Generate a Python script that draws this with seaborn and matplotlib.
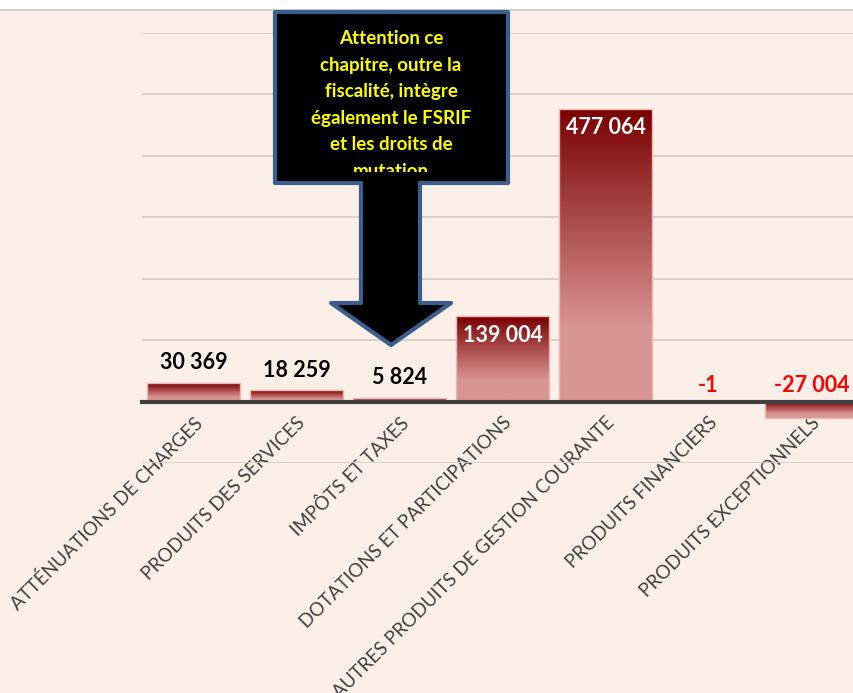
import numpy as np
import pandas as pd
import matplotlib.pyplot as plt
import seaborn as sns
from matplotlib.patches import Polygon, Rectangle
from matplotlib.colors import LinearSegmentedColormap
from matplotlib.lines import Line2D

categories = [
    "ATTÉNUATIONS DE CHARGES",
    "PRODUITS DES SERVICES",
    "IMPÔTS ET TAXES",
    "DOTATIONS ET PARTICIPATIONS",
    "AUTRES PRODUITS DE GESTION COURANTE",
    "PRODUITS FINANCIERS",
    "PRODUITS EXCEPTIONNELS",
]
values = [30369, 18259, 5824, 139004, 477064, -1, -27004]
note = ("Attention ce\nchapitre, outre la\nfiscalité, intègre\n"
        "également le FSRIF\net les droits de\nmutation")

BG = "#FCEFE7"
W, H = 854, 693

sns.set_theme(style="white")
plt.rcParams["font.family"] = ["Lato", "DejaVu Sans"]

df = pd.DataFrame({"cat": categories, "val": values})

fig = plt.figure(figsize=(W / 100, H / 100), dpi=100, facecolor=BG)


def fx(px):
    return px / W


def fy(py):
    return 1 - py / H


ax = fig.add_axes([fx(142), fy(463), fx(721), fy(33) - fy(463)])
ax.set_facecolor(BG)

sns.barplot(data=df, x="cat", y="val", width=0.9, color="#D99594",
            edgecolor="#E8B9B8", linewidth=1, ax=ax)

ax.set_xlim(-0.5, 6.5)
ax.set_ylim(-100000, 600000)
ax.set_yticks(np.arange(-100000, 600001, 100000))
ax.yaxis.grid(True, color="#D5CCC6", linewidth=1.2)
ax.set_axisbelow(True)
ax.set_yticklabels([])
ax.tick_params(axis="y", length=0)
ax.set_xlabel("")
ax.set_ylabel("")
for s in ["left", "right", "top"]:
    ax.spines[s].set_visible(False)
ax.spines["bottom"].set_position(("data", 0))
ax.spines["bottom"].set_color("#404040")
ax.spines["bottom"].set_linewidth(3)
ax.spines["bottom"].set_zorder(5)
ax.tick_params(axis="x", length=0, pad=9)
plt.setp(ax.get_xticklabels(), rotation=45, ha="right",
         rotation_mode="anchor", fontsize=13.5, color="#404040")

# gradient fill clipped to each bar
cmap = LinearSegmentedColormap.from_list(
    "bar", [(0, "#7A0000"), (0.75, "#D99594"), (1, "#D99594")])
grad = np.linspace(0, 1, 256).reshape(-1, 1)
for p in ax.patches:
    x0, y0 = p.get_x(), p.get_y()
    w, h = p.get_width(), p.get_height()
    ylo, yhi = min(y0, y0 + h), max(y0, y0 + h)
    if yhi - ylo < 1:
        continue
    im = ax.imshow(grad, cmap=cmap, aspect="auto", origin="upper",
                   extent=[x0, x0 + w, ylo, yhi], zorder=p.get_zorder() + 0.1)
    im.set_clip_path(p)
    p.set_zorder(p.get_zorder() + 0.2)
    p.set_facecolor("none")
ax.set_xlim(-0.5, 6.5)
ax.set_ylim(-100000, 600000)

# value labels
for i, v in enumerate(values):
    txt = f"{v:,}".replace(",", " ")
    if v > 100000:
        ax.annotate(txt, (i, v), xytext=(0, -6), textcoords="offset points",
                    ha="center", va="top", fontsize=15.5, fontweight="bold",
                    color="white", zorder=10)
    elif v < 0:
        ax.annotate(txt, (i, 0), xytext=(0, 4), textcoords="offset points",
                    ha="center", va="bottom", fontsize=15.5, fontweight="bold",
                    color="#FF0000", zorder=10)
    else:
        ax.annotate(txt, (i, v), xytext=(0, 7), textcoords="offset points",
                    ha="center", va="bottom", fontsize=15.5, fontweight="bold",
                    color="black", zorder=10)

# top white strip and border
fig.add_artist(Rectangle((0, fy(10)), 1, 1 - fy(10), transform=fig.transFigure,
                         facecolor="white", edgecolor="none", zorder=0))
fig.add_artist(Line2D([0, 1], [fy(10), fy(10)], transform=fig.transFigure,
                      color="#C8C8C8", linewidth=1.2))

# callout arrow
pts = [(275, 12), (508, 12), (508, 183), (420, 183), (420, 303), (451, 303),
       (391, 345), (331, 303), (361, 303), (361, 183), (275, 183)]
callout = Polygon([(fx(x), fy(y)) for x, y in pts], closed=True,
                  transform=fig.transFigure, facecolor="black",
                  edgecolor="#3B5E8C", linewidth=3, joinstyle="round",
                  zorder=20)
fig.add_artist(callout)
t = fig.text(fx(391), fy(30), note, ha="center", va="top", fontsize=13.5,
             fontweight="bold", color="#FFFF00", linespacing=1.68, zorder=21)
clip = Rectangle((fx(278), fy(172)), fx(227), fy(15) - fy(172),
                 transform=fig.transFigure)
t.set_clip_path(clip)

fig.savefig("out.png", dpi=100, facecolor=BG)
